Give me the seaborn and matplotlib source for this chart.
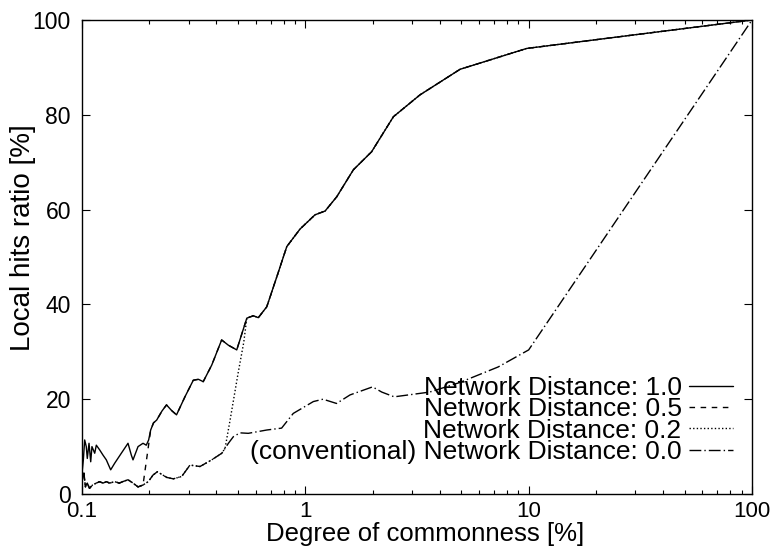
import numpy as np
import pandas as pd
import matplotlib
matplotlib.use("Agg")
import matplotlib.pyplot as plt
import seaborn as sns
from matplotlib.ticker import FixedLocator, LogLocator, NullFormatter, FuncFormatter

# Network Distance 1.0
x_nd10 = [0.1000, 0.1014, 0.1028, 0.1045, 0.1056, 0.1075, 0.1094, 0.1108, 0.1140,
          0.1159, 0.1200, 0.1242, 0.1285, 0.1344, 0.1401, 0.1500, 0.1607, 0.1663,
          0.1692, 0.1782, 0.1876, 0.1940, 0.1988, 0.2030, 0.2090, 0.2160, 0.2280,
          0.2390, 0.2520, 0.2650, 0.2890, 0.3150, 0.3320, 0.3490, 0.3810, 0.4220,
          0.4520, 0.4930, 0.5470, 0.5850, 0.6160, 0.6720, 0.7450, 0.8260, 0.9470,
          1.105, 1.226, 1.382, 1.641, 1.980, 2.480, 3.260, 4.930, 9.800, 100.0]
y_nd10 = [4.4, 7.2, 11.4, 10.0, 7.5, 10.7, 6.8, 10.0, 8.6,
          10.3, 9.3, 8.2, 7.2, 5.1, 6.5, 8.6, 10.7, 8.2,
          7.2, 10.0, 10.7, 10.3, 11.4, 13.5, 15.0, 15.6, 17.5,
          18.8, 17.6, 16.7, 20.5, 24.0, 24.2, 23.7, 27.2, 32.5,
          31.4, 30.4, 37.1, 37.6, 37.2, 39.5, 45.8, 52.2, 55.9,
          58.9, 59.7, 62.7, 68.4, 72.2, 79.6, 84.2, 89.6, 94.0, 100.0]

# Network Distance 0.0 (conventional)
x_nd00 = [0.1000, 0.1005, 0.1020, 0.1036, 0.1056, 0.1080, 0.1115, 0.1159, 0.1200,
          0.1242, 0.1285, 0.1330, 0.1401, 0.1470, 0.1520, 0.1607, 0.1692, 0.1782,
          0.1876, 0.1980, 0.2080, 0.2175, 0.2395, 0.2565, 0.2796, 0.3044, 0.3376,
          0.3808, 0.4226, 0.4524, 0.4763, 0.5099, 0.5555, 0.6720, 0.7830, 0.8830,
          1.086, 1.200, 1.380, 1.585, 2.000, 2.200, 2.500, 3.600, 4.900, 7.300,
          10.00, 100.0]
y_nd00 = [6.5, 3.0, 4.4, 1.5, 2.3, 1.2, 1.9, 2.3, 2.6,
          2.3, 2.6, 2.3, 2.6, 2.3, 2.6, 3.0, 2.3, 1.5,
          1.9, 2.6, 4.0, 4.7, 3.5, 3.2, 3.7, 6.1, 5.8,
          7.2, 8.6, 10.7, 12.1, 12.9, 12.8, 13.5, 13.9, 17.0,
          19.5, 20.0, 19.1, 20.9, 22.6, 21.5, 20.5, 21.5, 23.5, 26.8,
          30.4, 100.0]

# Network Distance 0.5 and 0.2 follow the conventional curve up to a switch
# point, then climb to the 1.0 curve and stay on it
split_nd05 = (0.1876, 0.2030)
x_nd02_rise = [0.4600, 0.5000, 0.5300]
y_nd02_rise = [15.5, 25.5, 32.0]
split_nd02 = (0.4370, 0.5470)

x10, y10 = np.array(x_nd10), np.array(y_nd10)
x00, y00 = np.array(x_nd00), np.array(y_nd00)


def series(lo, hi, xm=(), ym=()):
    lo_y = np.interp(np.log10(lo), np.log10(x00), y00)
    m0 = x00 < lo
    m1 = x10 >= hi
    xs = np.concatenate([x00[m0], [lo], np.array(xm, float), x10[m1]])
    ys = np.concatenate([y00[m0], [lo_y], np.array(ym, float), y10[m1]])
    return xs, ys


x05, y05 = series(*split_nd05)
x02, y02 = series(split_nd02[0], split_nd02[1], x_nd02_rise, y_nd02_rise)

labels = ["Network Distance: 1.0", "Network Distance: 0.5",
          "Network Distance: 0.2", "(conventional) Network Distance: 0.0"]
styles = ["-", (0, (4, 4)), (0, (1, 1.6)), (0, (8.5, 2.2, 1, 2.2))]
curves = [(x10, y10), (x05, y05), (x02, y02), (x00, y00)]

frames = []
for lab, (xs, ys) in zip(labels, curves):
    frames.append(pd.DataFrame({"x": xs, "y": ys, "series": lab}))
df = pd.concat(frames, ignore_index=True)

sns.set_style("ticks")
plt.rcParams["font.family"] = ["Liberation Sans", "DejaVu Sans"]
plt.rcParams["text.color"] = "black"
plt.rcParams["axes.labelcolor"] = "black"
plt.rcParams["xtick.color"] = "black"
plt.rcParams["ytick.color"] = "black"
plt.rcParams["xtick.direction"] = "in"
plt.rcParams["ytick.direction"] = "in"

fig = plt.figure(figsize=(7.74, 5.46), dpi=100)
ax = fig.add_axes([82 / 774, 1 - 494 / 546, 670 / 774, 474 / 546])

for lab, ls in zip(labels, styles):
    sub = df[df["series"] == lab]
    sns.lineplot(data=sub, x="x", y="y", ax=ax, color="black", linewidth=1.0,
                 linestyle=ls, label=lab, sort=False, estimator=None)

ax.set_xscale("log")
ax.set_xlim(0.1, 100)
ax.set_ylim(0, 100)
ax.yaxis.set_major_locator(FixedLocator([0, 20, 40, 60, 80, 100]))
ax.xaxis.set_major_locator(FixedLocator([0.1, 1, 10, 100]))
ax.xaxis.set_major_formatter(FuncFormatter(lambda v, p: f"{v:g}"))
ax.xaxis.set_minor_locator(LogLocator(base=10, subs=np.arange(2, 10)))
ax.xaxis.set_minor_formatter(NullFormatter())
ax.tick_params(which="both", top=True, right=True, direction="in", labelsize=16.5,
               color="black", labelcolor="black", width=0.8)
ax.tick_params(which="major", length=6)
ax.tick_params(which="minor", length=3)
ax.tick_params(axis="x", pad=5, labelsize=16)
ax.tick_params(axis="y", pad=8)
for s in ax.spines.values():
    s.set_linewidth(1.0)
    s.set_color("black")

ax.set_xlabel("Degree of commonness [%]", fontsize=18.5, color="black")
ax.set_ylabel("Local hits ratio [%]", fontsize=20, color="black")
ax.xaxis.set_label_coords(0.512, -0.06)
ax.yaxis.set_label_coords(-0.069, 0.54)

leg = ax.legend(loc="lower right", bbox_to_anchor=((733 - 82) / 670, (494 - 464) / 474),
                frameon=False, markerfirst=False, fontsize=19, handlelength=1.65,
                handletextpad=0.3, labelspacing=-0.1, borderpad=0, borderaxespad=0)
for t in leg.get_texts():
    t.set_color("black")

fig.savefig("out.png", dpi=100)
